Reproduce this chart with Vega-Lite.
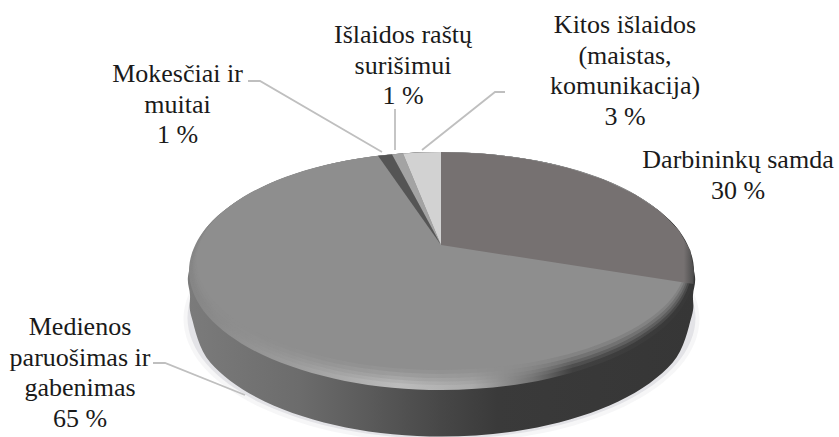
{
"$schema":"https://vega.github.io/schema/vega-lite/v6.json",
"width":839,"height":437,"padding":0,"autosize":{"type":"none"},
"background":"white","view":{"stroke":null},
"datasets":{
"shadowOuter":[{"x":441.5,"y":195},{"x":540.2,"y":204.4},{"x":623.9,"y":231.3},{"x":679.9,"y":271.5},{"x":699.5,"y":319},{"x":679.9,"y":366.5},{"x":623.9,"y":406.7},{"x":540.2,"y":433.6},{"x":441.5,"y":443},{"x":342.8,"y":433.6},{"x":259.1,"y":406.7},{"x":203.1,"y":366.5},{"x":183.5,"y":319},{"x":203.1,"y":271.5},{"x":259.1,"y":231.3},{"x":342.8,"y":204.4}],
"shadowInner":[{"x":441.5,"y":197},{"x":538.7,"y":206.2},{"x":621.1,"y":232.4},{"x":676.2,"y":271.7},{"x":695.5,"y":318},{"x":676.2,"y":364.3},{"x":621.1,"y":403.6},{"x":538.7,"y":429.8},{"x":441.5,"y":439},{"x":344.3,"y":429.8},{"x":261.9,"y":403.6},{"x":206.8,"y":364.3},{"x":187.5,"y":318},{"x":206.8,"y":271.7},{"x":261.9,"y":232.4},{"x":344.3,"y":206.2}],
"side":[{"x":441.5,"y":152},{"x":538.1,"y":161.1},{"x":620,"y":186.9},{"x":674.8,"y":225.5},{"x":694,"y":271},{"x":693,"y":295},{"x":691.5,"y":317},{"x":672.5,"y":362.7},{"x":618.3,"y":401.5},{"x":537.2,"y":427.4},{"x":441.5,"y":436.5},{"x":345.8,"y":427.4},{"x":264.7,"y":401.5},{"x":210.5,"y":362.7},{"x":191.5,"y":317},{"x":190,"y":295},{"x":189,"y":271},{"x":208.2,"y":225.5},{"x":263,"y":186.9},{"x":344.9,"y":161.1}],
"rim":[{"x":441.5,"y":152},{"x":538.1,"y":161.1},{"x":620,"y":186.9},{"x":674.8,"y":225.5},{"x":694,"y":271},{"x":674.8,"y":316.5},{"x":620,"y":355.1},{"x":538.1,"y":380.9},{"x":441.5,"y":390},{"x":344.9,"y":380.9},{"x":263,"y":355.1},{"x":208.2,"y":316.5},{"x":189,"y":271},{"x":208.2,"y":225.5},{"x":263,"y":186.9},{"x":344.9,"y":161.1}],
"blur1":[{"x":441.5,"y":152},{"x":537.2,"y":160.9},{"x":618.3,"y":186.1},{"x":672.5,"y":223.9},{"x":691.5,"y":268.5},{"x":672.5,"y":313.1},{"x":618.3,"y":350.9},{"x":537.2,"y":376.1},{"x":441.5,"y":385},{"x":345.8,"y":376.1},{"x":264.7,"y":350.9},{"x":210.5,"y":313.1},{"x":191.5,"y":268.5},{"x":210.5,"y":223.9},{"x":264.7,"y":186.1},{"x":345.8,"y":160.9}],
"blur1a":[{"x":441.5,"y":152},{"x":536.7,"y":160.75},{"x":617.4,"y":185.65},{"x":671.3,"y":222.85},{"x":690.25,"y":266.75},{"x":671.3,"y":310.65},{"x":617.4,"y":347.85},{"x":536.7,"y":372.75},{"x":441.5,"y":381.5},{"x":346.3,"y":372.75},{"x":265.6,"y":347.85},{"x":211.7,"y":310.65},{"x":192.75,"y":266.75},{"x":211.7,"y":222.85},{"x":265.6,"y":185.65},{"x":346.3,"y":160.75}],
"blur2":[{"x":441.5,"y":152},{"x":536.2,"y":160.6},{"x":616.5,"y":185.1},{"x":670.2,"y":221.8},{"x":689,"y":265},{"x":670.2,"y":308.2},{"x":616.5,"y":344.9},{"x":536.2,"y":369.4},{"x":441.5,"y":378},{"x":346.8,"y":369.4},{"x":266.5,"y":344.9},{"x":212.8,"y":308.2},{"x":194,"y":265},{"x":212.8,"y":221.8},{"x":266.5,"y":185.1},{"x":346.8,"y":160.6}],
"blur2a":[{"x":441.5,"y":152},{"x":535.7,"y":160.4},{"x":615.6,"y":184.5},{"x":669,"y":220.5},{"x":687.75,"y":263},{"x":669,"y":305.5},{"x":615.6,"y":341.5},{"x":535.7,"y":365.6},{"x":441.5,"y":374},{"x":347.3,"y":365.6},{"x":267.4,"y":341.5},{"x":214,"y":305.5},{"x":195.25,"y":263},{"x":214,"y":220.5},{"x":267.4,"y":184.5},{"x":347.3,"y":160.4}],
"face":[{"x":441.5,"y":152},{"x":535.3,"y":160.3},{"x":614.7,"y":183.9},{"x":667.9,"y":219.3},{"x":686.5,"y":261},{"x":667.9,"y":302.7},{"x":614.7,"y":338.1},{"x":535.3,"y":361.7},{"x":441.5,"y":370},{"x":347.7,"y":361.7},{"x":268.3,"y":338.1},{"x":215.1,"y":302.7},{"x":196.5,"y":261},{"x":215.1,"y":219.3},{"x":268.3,"y":183.9},{"x":347.7,"y":160.3}],
"workers":[{"x":441,"y":245},{"x":441,"y":152},{"x":485.3,"y":153.8},{"x":527.9,"y":159.2},{"x":567.8,"y":167.9},{"x":603.8,"y":179.8},{"x":634.9,"y":194.5},{"x":660.2,"y":211.5},{"x":678.8,"y":230.3},{"x":690.2,"y":250.3},{"x":694,"y":271},{"x":693.5,"y":284}],
"other":[{"x":441,"y":245},{"x":441,"y":152},{"x":422,"y":152.4},{"x":403,"y":153.4}],
"binding":[{"x":441,"y":245},{"x":403,"y":153.4},{"x":392,"y":154.5}],
"taxes":[{"x":441,"y":245},{"x":392,"y":154.5},{"x":378,"y":155.7}],
"leaders":[
{"k":"m","x":248,"y":81},{"k":"m","x":260,"y":81},{"k":"m","x":382,"y":152},
{"k":"i","x":395,"y":109},{"k":"i","x":395,"y":150},
{"k":"o","x":505,"y":92},{"k":"o","x":495,"y":92},{"k":"o","x":422,"y":150},
{"k":"w","x":153,"y":363},{"k":"w","x":165,"y":363},{"k":"w","x":245,"y":395}],
"labels":[
{"label":"Darbininkų samda\n30 %","share":30,"x":738,"y":160},
{"label":"Medienos\nparuošimas ir\ngabenimas\n65 %","share":65,"x":80,"y":327},
{"label":"Mokesčiai ir\nmuitai\n1 %","share":1,"x":177.5,"y":74},
{"label":"Išlaidos raštų\nsurišimui\n1 %","share":1,"x":403,"y":35},
{"label":"Kitos išlaidos\n(maistas,\nkomunikacija)\n3 %","share":3,"x":625,"y":25}]
},
"encoding":{
"x":{"field":"x","type":"quantitative","scale":{"domain":[0,839],"nice":false,"zero":false},"axis":null},
"y":{"field":"y","type":"quantitative","scale":{"domain":[437,0],"nice":false,"zero":false},"axis":null},
"order":{"value":null}
},
"layer":[
{"data":{"name":"shadowOuter"},"mark":{"type":"line","interpolate":"cardinal-closed","fill":"#d0d0d8","fillOpacity":0.2,"stroke":null}},
{"data":{"name":"shadowInner"},"mark":{"type":"line","interpolate":"cardinal-closed","fill":"#c0c0c8","fillOpacity":0.35,"stroke":null}},
{"data":{"name":"side"},"mark":{"type":"line","interpolate":"cardinal-closed","stroke":null,"fill":{"gradient":"linear","x1":0,"y1":0,"x2":1,"y2":0,"stops":[{"offset":0,"color":"#7b7b7b"},{"offset":0.22,"color":"#6c6c6c"},{"offset":0.36,"color":"#5a5a5a"},{"offset":0.5,"color":"#474747"},{"offset":0.61,"color":"#3a3a3a"},{"offset":1,"color":"#363636"}]}}},
{"data":{"name":"rim"},"mark":{"type":"line","interpolate":"cardinal-closed","stroke":null,"fill":{"gradient":"linear","x1":0,"y1":0,"x2":1,"y2":0,"stops":[{"offset":0,"color":"#858585"},{"offset":0.2,"color":"#9c9c9c"},{"offset":0.42,"color":"#bcbcbc"},{"offset":0.56,"color":"#ababab"},{"offset":0.68,"color":"#757575"},{"offset":0.76,"color":"#404040"},{"offset":1,"color":"#383838"}]}}},
{"data":{"name":"blur1"},"mark":{"type":"line","interpolate":"cardinal-closed","stroke":null,"fill":"#8e8e8e","fillOpacity":0.2}},
{"data":{"name":"blur1a"},"mark":{"type":"line","interpolate":"cardinal-closed","stroke":null,"fill":"#8e8e8e","fillOpacity":0.3}},
{"data":{"name":"blur2"},"mark":{"type":"line","interpolate":"cardinal-closed","stroke":null,"fill":"#8e8e8e","fillOpacity":0.4}},
{"data":{"name":"blur2a"},"mark":{"type":"line","interpolate":"cardinal-closed","stroke":null,"fill":"#8e8e8e","fillOpacity":0.6}},
{"data":{"name":"face"},"mark":{"type":"line","interpolate":"cardinal-closed","stroke":null,"fill":"#8e8e8e"}},
{"data":{"name":"workers"},"mark":{"type":"line","stroke":null,"fill":{"gradient":"linear","x1":0,"y1":0,"x2":1,"y2":0,"stops":[{"offset":0,"color":"#767171"},{"offset":0.96,"color":"#767171"},{"offset":1,"color":"#4a4a4a"}]}}},
{"data":{"name":"other"},"mark":{"type":"line","stroke":null,"fill":"#d2d2d2"}},
{"data":{"name":"binding"},"mark":{"type":"line","stroke":null,"fill":"#a3a3a3"}},
{"data":{"name":"taxes"},"mark":{"type":"line","stroke":null,"fill":"#555555"}},
{"data":{"name":"leaders"},"mark":{"type":"line","stroke":"#bfbfbf","strokeWidth":1.8},"encoding":{"detail":{"field":"k"}}},
{"data":{"name":"labels"},"mark":{"type":"text","font":"Liberation Serif","fontSize":26,"color":"#1a1a1a","align":"center","baseline":"middle","lineBreak":"\n","lineHeight":30.5},"encoding":{"text":{"field":"label"}}}
]
}
